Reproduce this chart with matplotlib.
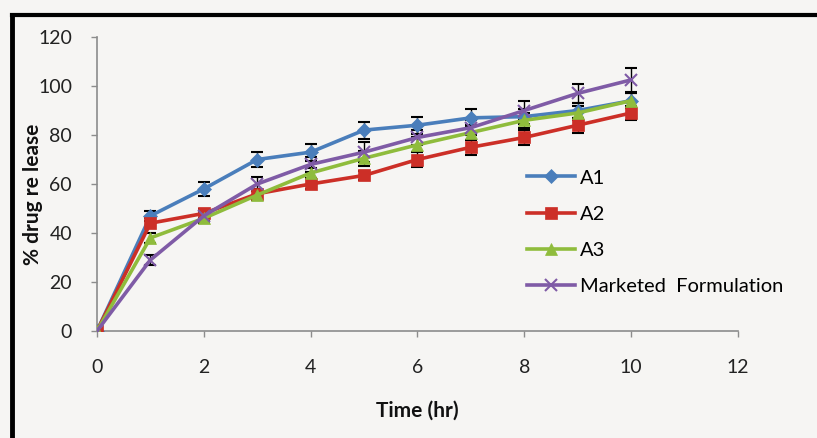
import numpy as np
import matplotlib
matplotlib.use("Agg")
import matplotlib.pyplot as plt
from matplotlib.lines import Line2D

plt.rcParams["font.family"] = ["Lato", "DejaVu Sans"]

# ── data
time_hr = [0, 1, 2, 3, 4, 5, 6, 7, 8, 9, 10]
a1 = [0, 47, 58, 70, 73, 82, 84, 87, 87.5, 90, 94]
a2 = [0, 44, 48, 56, 60, 63.5, 70, 75, 79, 84, 89]
a3 = [0, 38, 46, 55.5, 64.5, 70.5, 76, 81, 86, 89, 94]
mf = [0, 29, 47, 60, 68, 73, 79, 83, 90, 97, 102.5]

a1_err = [0, 2, 3, 3, 3.5, 3.5, 3.5, 3.5, 3, 3, 3]
a2_err = [0, 2, 2, 2, 2, 2, 3, 3, 3, 3, 3]
a3_err = [0, 2, 2, 2, 2, 3, 3, 3, 3, 3, 3]
mf_err = [0, 2, 2, 3, 3, 4, 3, 3, 4, 4, 5]

x_ticks = [0, 2, 4, 6, 8, 10, 12]
y_ticks = [0, 20, 40, 60, 80, 100, 120]

bg = "#f6f5f3"
fig = plt.figure(figsize=(8.17, 4.38), dpi=100, facecolor=bg)
ax = fig.add_axes([0.1187, 0.2443, 0.7846, 0.6712], facecolor=bg)

series = [
    ("A1", a1, a1_err, "#4a7ebb", "D", 7),
    ("A2", a2, a2_err, "#cc2f27", "s", 9),
    ("A3", a3, a3_err, "#8fbc3c", "^", 9),
    ("Marketed  Formulation", mf, mf_err, "#7f5ba6", "x", 9),
]

for name, vals, err, color, marker, ms in series:
    ax.errorbar(time_hr, vals, yerr=err, fmt="none", ecolor="black",
                elinewidth=1, capsize=4, capthick=1.5, zorder=2)
    ax.plot(time_hr, vals, color=color, linewidth=2.6, marker=marker,
            markersize=ms, markeredgewidth=1.5 if marker == "x" else 0.5,
            markeredgecolor=color, label=name, zorder=3)

ax.set_xlim(0, 12)
ax.set_ylim(0, 120)
ax.set_xticks(x_ticks)
ax.set_yticks(y_ticks)
for side in ("top", "right"):
    ax.spines[side].set_visible(False)
for side in ("left", "bottom"):
    ax.spines[side].set_color("#8c8c8c")
    ax.spines[side].set_linewidth(1.2)
ax.tick_params(axis="both", colors="#8c8c8c", labelcolor="#222222",
               labelsize=14, length=4, width=1)
ax.tick_params(axis="x", pad=16)
ax.tick_params(axis="y", pad=14)

ax.set_xlabel("Time (hr)", fontsize=15, fontweight="bold", color="#111111")
ax.xaxis.set_label_coords(0.5, -0.238)
ax.set_ylabel("% drug re lease", fontsize=15, fontweight="bold", color="#111111")
ax.yaxis.set_label_coords(-0.084, 0.466)

ax.legend(loc="upper left", bbox_to_anchor=(0.658, 0.577), frameon=False,
          fontsize=14.5, handlelength=2.38, handletextpad=0.25, labelspacing=0.95,
          borderaxespad=0)

# thick black frame on top and left (cropped screenshot)
fig.add_artist(Line2D([0.0147, 1.0], [0.966, 0.966], transform=fig.transFigure,
                      color="black", linewidth=3))
fig.add_artist(Line2D([0.0147, 0.0147], [0.0, 0.966], transform=fig.transFigure,
                      color="black", linewidth=3.5))

fig.savefig("out.png", dpi=100, facecolor=bg)
